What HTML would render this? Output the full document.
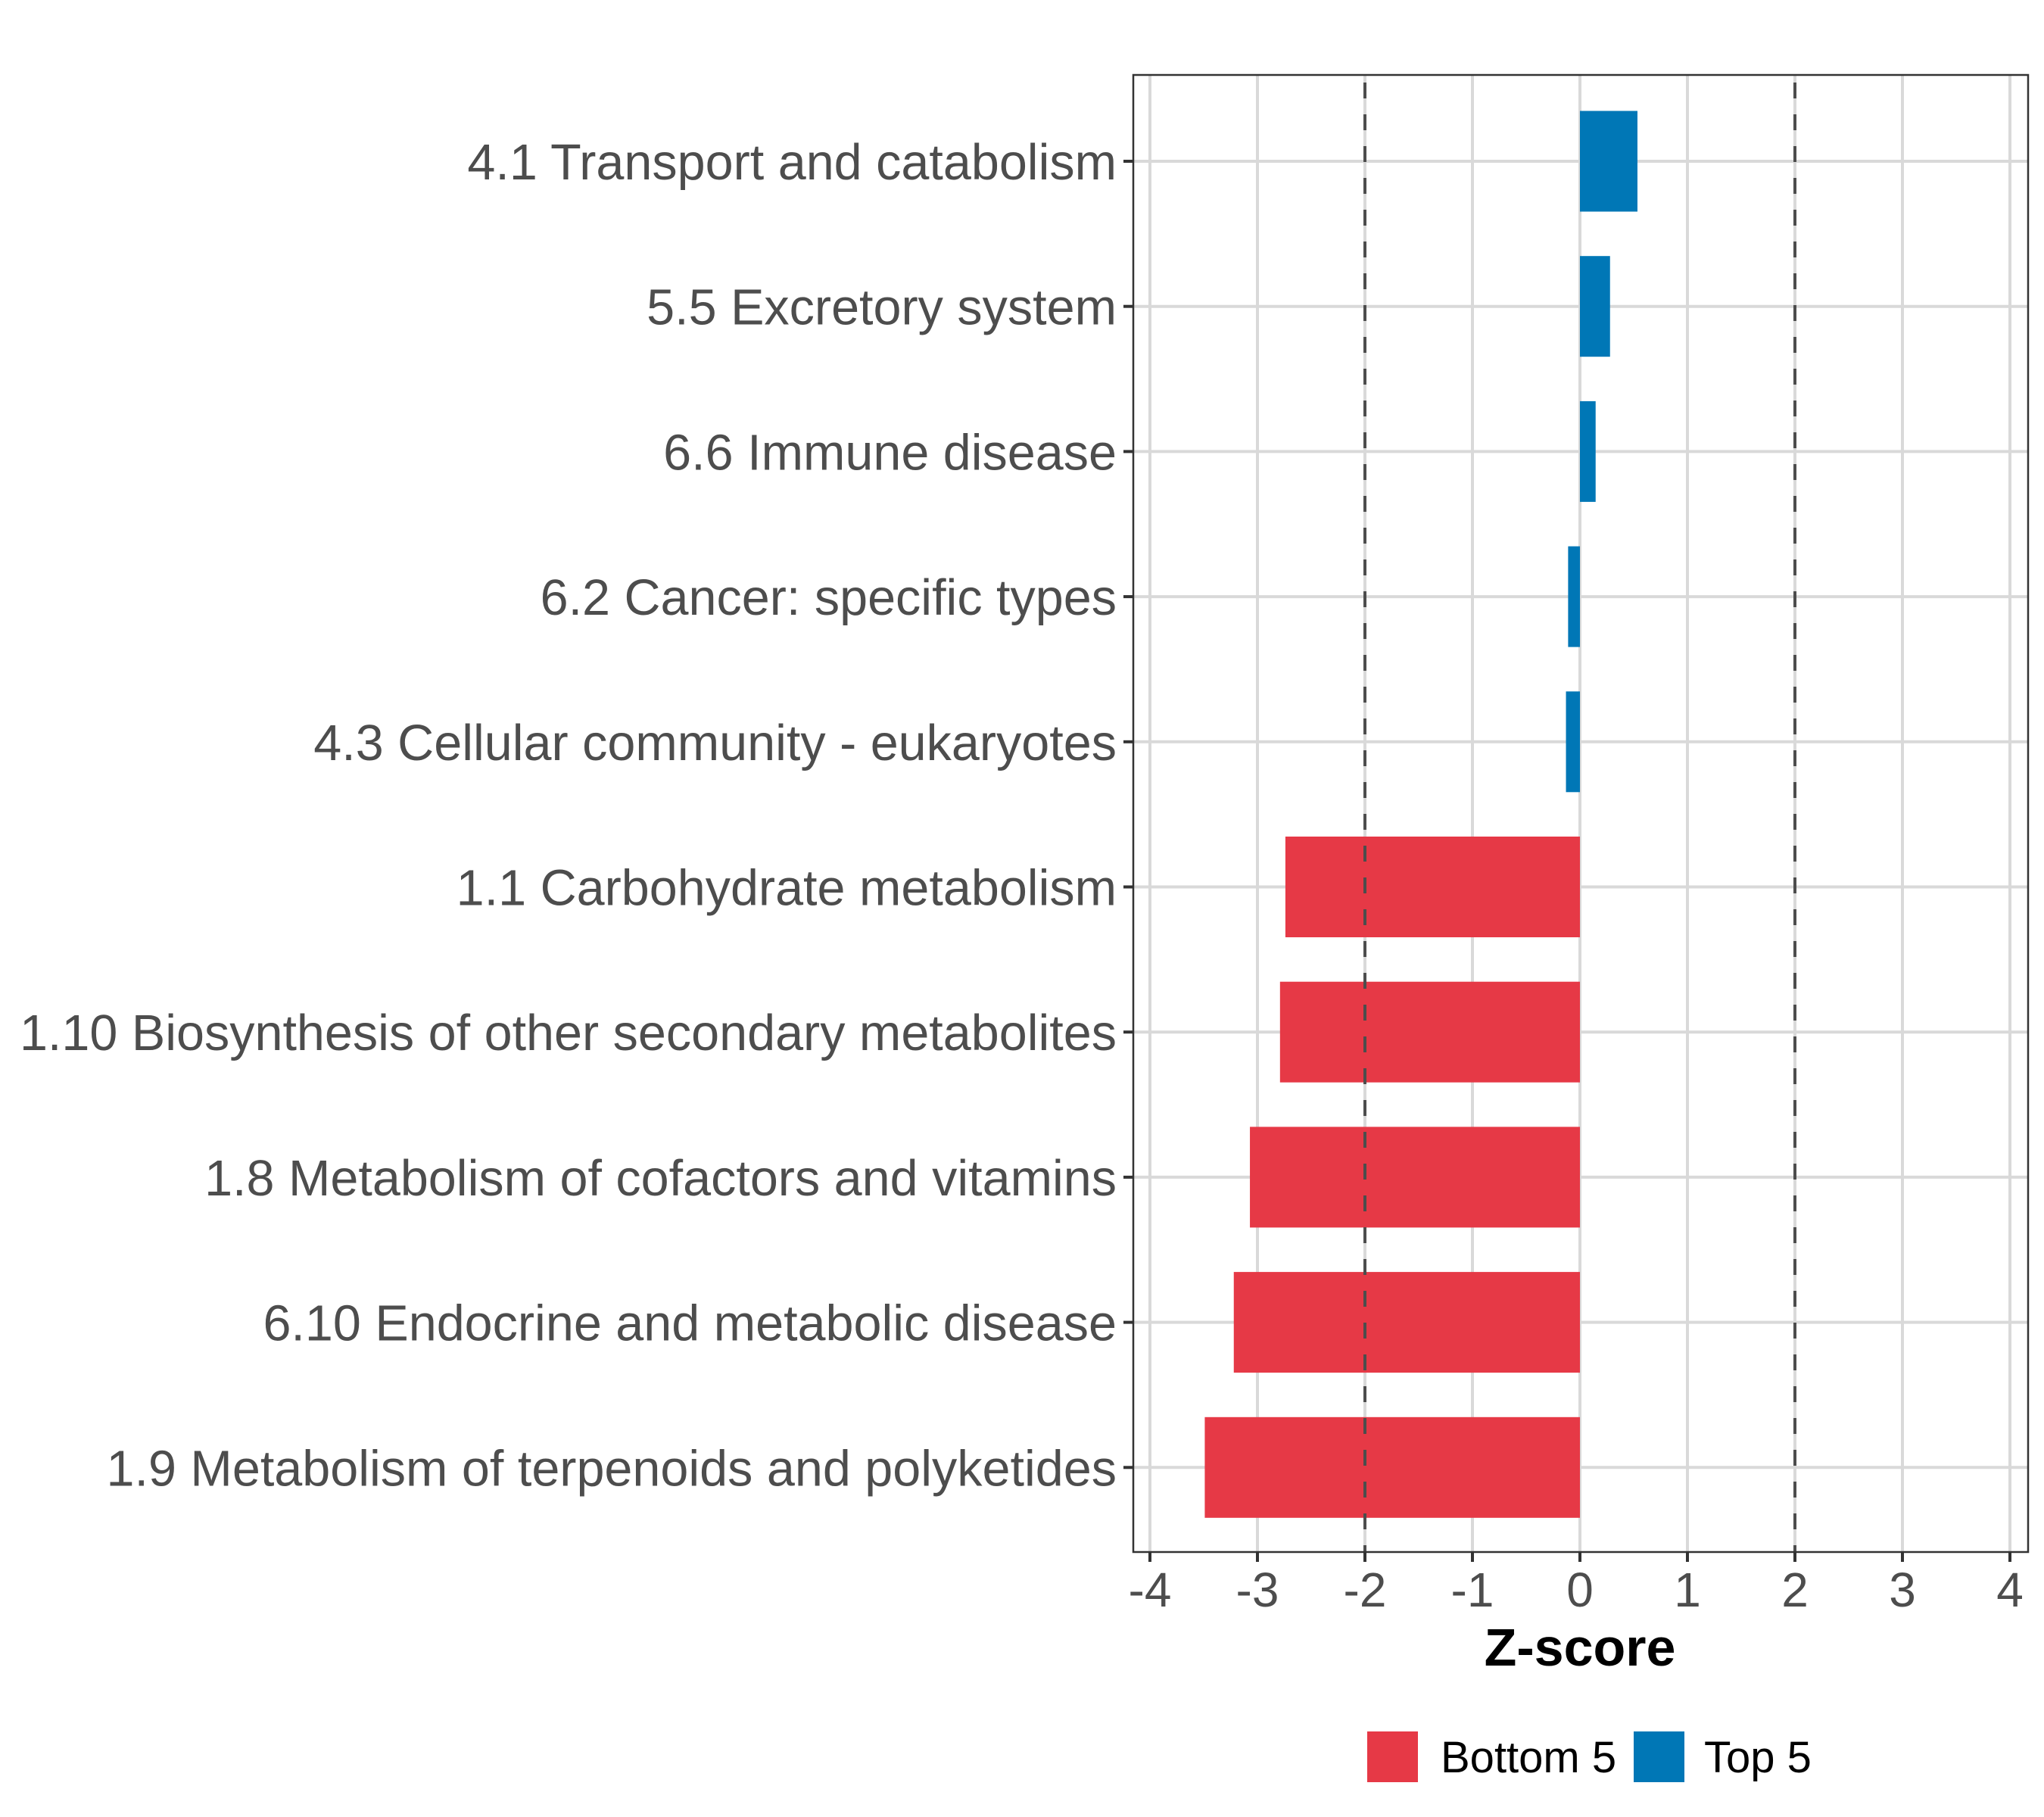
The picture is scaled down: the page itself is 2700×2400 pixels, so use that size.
<!DOCTYPE html>
<html><head><meta charset="utf-8"><style>
html,body{margin:0;padding:0;background:#fff;}
svg{display:block;font-family:"Liberation Sans",sans-serif;}
</style></head><body>
<svg id="chart" width="2700" height="2400" xmlns="http://www.w3.org/2000/svg">
<rect width="2700" height="2400" fill="#fff"/>
<g id="grid"></g>
<g id="bars"></g>
<g id="refs"></g>
<rect x="1497" y="99" width="1182" height="1951" fill="none" stroke="#333" stroke-width="2.5"/>
<g id="yaxis"></g>
<g id="xaxis"></g>
<text x="2087" y="2200" font-size="70" font-weight="bold" text-anchor="middle" fill="#000">Z-score</text>
<g>
<rect x="1806" y="2287" width="67" height="67" fill="#E63946"/>
<text x="1903" y="2341" font-size="58" fill="#000">Bottom 5</text>
<rect x="2158" y="2287" width="67" height="67" fill="#0077B6"/>
<text x="2251" y="2341" font-size="58" fill="#000">Top 5</text>
</g>
</svg>
<script>
const categories = ["4.1 Transport and catabolism","5.5 Excretory system","6.6 Immune disease","6.2 Cancer: specific types","4.3 Cellular community - eukaryotes","1.1 Carbohydrate metabolism","1.10 Biosynthesis of other secondary metabolites","1.8 Metabolism of cofactors and vitamins","6.10 Endocrine and metabolic disease","1.9 Metabolism of terpenoids and polyketides"];
const values = [0.535, 0.28, 0.146, -0.11, -0.13, -2.74, -2.79, -3.07, -3.22, -3.49];
const groups = ["Top 5","Top 5","Top 5","Top 5","Top 5","Bottom 5","Bottom 5","Bottom 5","Bottom 5","Bottom 5"];
const xTicks = [-4,-3,-2,-1,0,1,2,3,4];
const xTickLabels = ["-4","-3","-2","-1","0","1","2","3","4"];
const refLines = [-2, 2];

const NS="http://www.w3.org/2000/svg";
const PL=1497, PR=2679, PT=99, PB=2050;
const X0=2087, XU=142;
const xs = v => X0 + v*XU;
const ROW0=213, ROWSTEP=191.7;
const ys = i => ROW0 + i*ROWSTEP;
const BH=133;
function mk(tag, attrs, parent){const e=document.createElementNS(NS,tag);for(const k in attrs)e.setAttribute(k,attrs[k]);parent.appendChild(e);return e;}
const grid=document.getElementById('grid'), bars=document.getElementById('bars'), refs=document.getElementById('refs'), yax=document.getElementById('yaxis'), xax=document.getElementById('xaxis');

xTicks.forEach((t,i)=>{
  const gl=mk('line',{x1:xs(t),x2:xs(t),y1:PT,y2:PB,stroke:'#d9d9d9','stroke-width':4},grid);
  
  
  const tk=mk('line',{x1:xs(t),x2:xs(t),y1:PB,y2:PB+13,stroke:'#333','stroke-width':4},xax);
  
  
  const lb=mk('text',{x:xs(t),y:PB+72,'font-size':64,'text-anchor':'middle',fill:'#4d4d4d'},xax);
  lb.textContent=xTickLabels[i];
  
  
});
categories.forEach((c,i)=>{
  const gl=mk('line',{x1:PL,x2:PR,y1:ys(i),y2:ys(i),stroke:'#d9d9d9','stroke-width':4},grid);
  
  
  const v=values[i];
  const r=mk('rect',{x:Math.min(xs(0),xs(v)),y:ys(i)-BH/2,width:Math.abs(xs(v)-xs(0)),height:BH,fill:groups[i]==='Top 5'?'#0077B6':'#E63946'},bars);
  
  
  const tk=mk('line',{x1:PL-13,x2:PL,y1:ys(i),y2:ys(i),stroke:'#333','stroke-width':4},yax);
  
  
  const lb=mk('text',{x:PL-22,y:ys(i)+24,'font-size':66.5,'text-anchor':'end',fill:'#4d4d4d'},yax);
  lb.textContent=c;
  
  
});
refLines.forEach(v=>{
  const l=mk('line',{x1:xs(v),x2:xs(v),y1:PT+10,y2:PB,stroke:'#4d4d4d','stroke-width':4,'stroke-dasharray':'21 21'},refs);
  
  
});
</script>
</body></html>
